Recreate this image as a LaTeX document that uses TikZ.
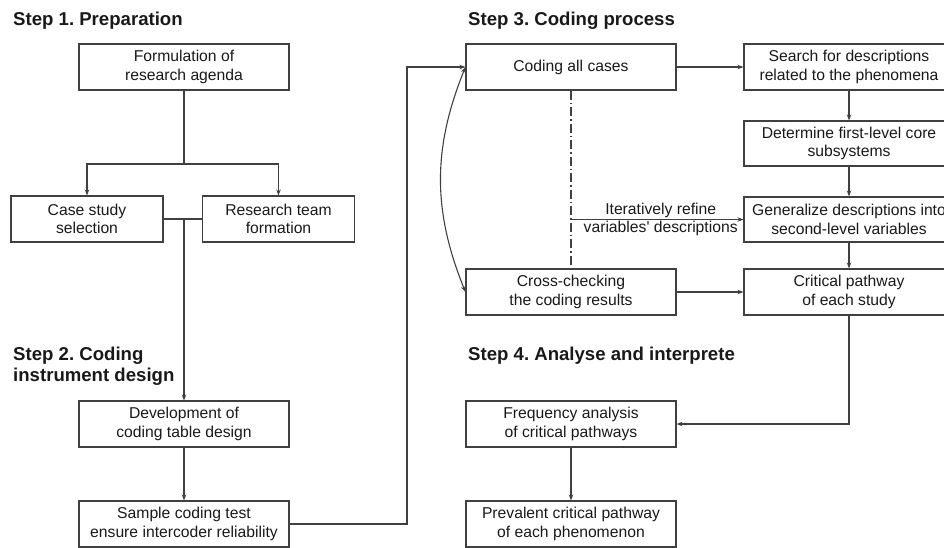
\documentclass[tikz,border=0pt]{standalone}
\usepackage{fontspec}
\setmainfont{Liberation Sans}
\usetikzlibrary{arrows.meta}
\frenchspacing
\begin{document}
\begin{tikzpicture}[x=1pt,y=-1pt,
  line/.style={draw=black!75, line width=1.1pt},
  arr/.style={line, -{Stealth[length=6pt,width=4.5pt]}},
  dbl/.style={line, {Stealth[length=6pt,width=4.5pt]}-{Stealth[length=6pt,width=4.5pt]}},
  box/.style={draw=black!75, line width=1.1pt, minimum width=210pt, minimum height=46pt,
    align=center, inner sep=2pt, font=\fontsize{15.7}{18.5}\selectfont, text=black!90},
  smallbox/.style={box, minimum width=152pt},
  title/.style={font=\bfseries\fontsize{18.6}{21.5}\selectfont, inner sep=0pt, text=black!90},
  lbl/.style={font=\fontsize{15.7}{18.5}\selectfont, align=center, inner sep=0pt, text=black!90},
]
\useasboundingbox (0,0) rectangle (944,547);

% titles
\node[title, anchor=base west] (t1) at (13,25) {Step 1. Preparation};
\node[title, anchor=north west, align=left] (t2) at (13,346.4) {Step 2. Coding\\instrument design};
\node[title, anchor=base west] (t3) at (468,25) {Step 3. Coding process};
\node[title, anchor=base west] (t4) at (468,360) {Step 4. Analyse and interprete};

% step 1 & 2
\node[box] (form) at (184,67) {Formulation of\\research agenda};
\node[smallbox] (case) at (87,219) {Case study\\selection};
\node[smallbox] (team) at (278.5,219) {Research team\\formation};
\node[box] (dev) at (184,424) {Development of\\coding table design};
\node[box] (sample) at (184,524) {Sample coding test\\ensure intercoder reliability};

% step 3
\node[box] (coding) at (571,67) {Coding all cases};
\node[box] (search) at (849,67) {Search for descriptions\\related to the phenomena};
\node[box, minimum height=45pt] (determine) at (849,143.5) {Determine first-level core\\subsystems};
\node[box, minimum height=45pt] (general) at (849,219.5) {Generalize descriptions into\\second-level variables};
\node[box] (critical) at (849,292) {Critical pathway\\of each study};
\node[box] (cross) at (571,292) {Cross-checking\\the coding results};

% step 4
\node[box] (freq) at (571,424) {Frequency analysis\\of critical pathways};
\node[box] (prev) at (571,524) {Prevalent critical pathway\\of each phenomenon};

% connectors step 1
\coordinate (fork) at (184,164);
\draw[line] (form.south) -- (fork);
\draw[arr] (fork) -| (case.north);
\draw[arr] (fork) -| (team.north);
\draw[line] (case.east) -- (team.west);
\coordinate (join) at (184,219);
\draw[arr] (join) -- (dev.north);
\draw[arr] (dev.south) -- (sample.north);

% feedback to coding
\coordinate (fb) at (407,524);
\draw[arr] (sample.east) -- (fb) |- (coding.west);

% step 3 connectors
\draw[arr] (coding.east) -- (search.west);
\draw[arr] (search.south) -- (determine.north);
\draw[arr] (determine.south) -- (general.north);
\draw[arr] (general.south) -- (critical.north);
\draw[arr] (cross.east) -- (critical.west);
\draw[dbl] (coding.west) to[bend right=22] (cross.west);
\draw[line, dash pattern=on 9pt off 3pt on 1.5pt off 3pt] (coding.south) -- (cross.north);
\coordinate (ref) at (571,219.5);
\draw[arr] (ref) -- (general.west) node[lbl, pos=0.52] (reflbl) {Iteratively refine\\variables\textquotesingle\ descriptions};

% step 4 connectors
\draw[arr] (critical.south) |- (freq.east);
\draw[arr] (freq.south) -- (prev.north);
\end{tikzpicture}
\end{document}
